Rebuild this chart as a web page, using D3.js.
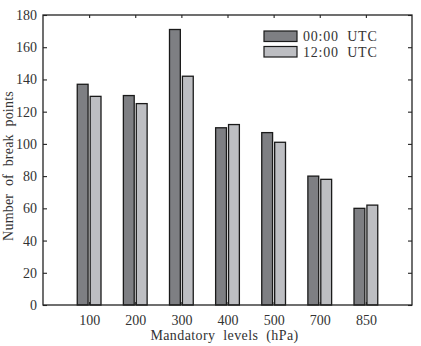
<!DOCTYPE html>
<html><head><meta charset="utf-8">
<script src="https://cdn.jsdelivr.net/npm/d3@7"></script>
<style>
html,body{margin:0;padding:0;background:#fff;}
svg text{font-family:"Liberation Serif","DejaVu Serif",serif;fill:#333;}
</style></head>
<body><svg id="c" width="421" height="346"></svg>
<script>
const categories = ["100","200","300","400","500","700","850"];
const seriesNames = ["00:00 UTC","12:00 UTC"];
const utc00 = [137,130,171,110,107,80,60];
const utc12 = [129.5,125,142,112,101,78,62];
const yTicks = [0,20,40,60,80,100,120,140,160,180];
const colors = ["#7e7f83","#bdbec2"];

const svg = d3.select("#c");
const m = {l:43, r:412, t:15, b:305};
const x = d3.scaleLinear().domain([0, categories.length+1]).range([m.l, m.r]);
const y = d3.scaleLinear().domain([0,180]).range([m.b, m.t]);
const bw = 0.235, off = 0.14;

const g = svg.append("g");
const series = [utc00, utc12];
series.forEach((vals, s) => {
  g.selectAll(null).data(vals).enter().append("rect")
    .attr("x", (d,i) => x(i+1 + (s===0?-off:off) - bw/2))
    .attr("y", d => y(d))
    .attr("width", x(bw) - x(0))
    .attr("height", d => y(0) - y(d))
    .attr("fill", colors[s])
    .attr("stroke", "#1a1a1a")
    .attr("stroke-width", 1.3);
});

// Axes
const yAxisL = d3.axisLeft(y).tickValues(yTicks).tickSize(-4).tickPadding(6);
const yAxisR = d3.axisRight(y).tickValues(yTicks).tickSize(-4).tickFormat("");
const xAxisB = d3.axisBottom(x).tickValues(d3.range(1, categories.length+1)).tickSize(-3).tickPadding(10).tickFormat(d => categories[d-1]);
const xAxisT = d3.axisTop(x).tickValues(d3.range(1, categories.length+1)).tickSize(-3).tickFormat("");

function style(sel){
  sel.select(".domain").remove();
  sel.selectAll(".tick line").attr("stroke","#222").attr("stroke-width",1.1);
  sel.selectAll("text").attr("font-size","14px").attr("fill","#333");
}
svg.append("g").attr("transform",`translate(${m.l},0)`).call(yAxisL).call(style);
svg.append("g").attr("transform",`translate(${m.r},0)`).call(yAxisR).call(style);
svg.append("g").attr("transform",`translate(0,${m.b})`).call(xAxisB).call(style);
svg.append("g").attr("transform",`translate(0,${m.t})`).call(xAxisT).call(style);

svg.append("rect").attr("x",m.l).attr("y",m.t).attr("width",m.r-m.l).attr("height",m.b-m.t)
  .attr("fill","none").attr("stroke","#222").attr("stroke-width",1.3);

// Titles
svg.append("text").attr("x",(m.l+m.r)/2 - 3).attr("y",340).attr("text-anchor","middle")
  .attr("font-size","14px").attr("letter-spacing","0.4px").attr("word-spacing","4px").text("Mandatory levels (hPa)");
svg.append("text").attr("transform",`translate(13,${(m.t+m.b)/2+6}) rotate(-90)`).attr("text-anchor","middle")
  .attr("font-size","14px").attr("letter-spacing","0.2px").attr("word-spacing","4px").text("Number of break points");

// Legend
const lg = svg.append("g").attr("transform","translate(264,31)");
seriesNames.forEach((n,i) => {
  lg.append("rect").attr("x",0).attr("y",i*15.5).attr("width",33).attr("height",10.5)
    .attr("fill",colors[i]).attr("stroke","#1a1a1a").attr("stroke-width",1.2);
  lg.append("text").attr("x",39).attr("y",i*15.5+10).attr("font-size","14px")
    .attr("letter-spacing","0.8px").attr("word-spacing","4px").text(n);
});
</script></body></html>
